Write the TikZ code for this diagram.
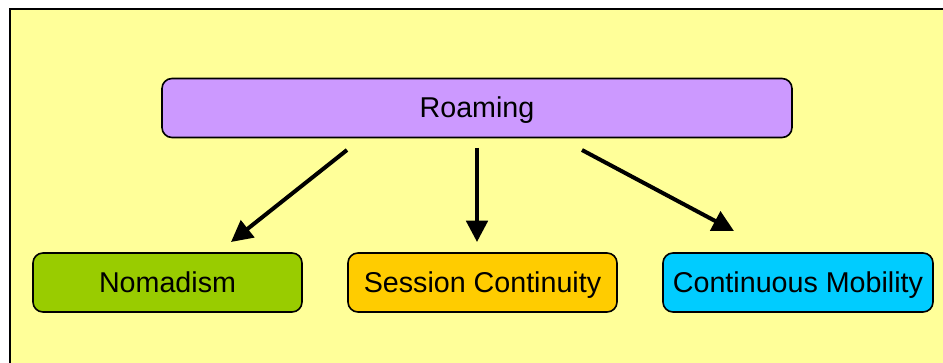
\documentclass[tikz,border=0pt]{standalone}
\usepackage{fontspec}
\setmainfont{Liberation Sans}
\usetikzlibrary{arrows.meta}
\definecolor{bgyellow}{HTML}{FFFF99}
\definecolor{roamc}{HTML}{CC99FF}
\definecolor{nomc}{HTML}{99CC00}
\definecolor{sessc}{HTML}{FFCC00}
\definecolor{contc}{HTML}{00CCFF}
\tikzset{
  box/.style={draw=black, line width=1.2pt, rounded corners=7.5pt, font=\fontsize{21.5}{25}\selectfont, text=black, inner sep=0pt, text height=15pt, text depth=0pt},
  conn/.style={line width=3pt, -{Triangle[length=16pt,width=16pt]}},
}
\begin{document}
\begin{tikzpicture}[x=0.75pt,y=-0.75pt]
\clip (0,0) rectangle (943,363);
\fill[white] (0,0) rectangle (943,363);
\draw[fill=bgyellow, line width=1.5pt] (10,9) rectangle (980,400);
\node[box, fill=roamc, minimum width=630*0.75pt, minimum height=59*0.75pt] (roam) at (477,108) {Roaming};
\node[box, fill=nomc, minimum width=269*0.75pt, minimum height=59*0.75pt] (nom) at (167.5,282.5) {Nomadism};
\node[box, fill=sessc, minimum width=269*0.75pt, minimum height=59*0.75pt] (sess) at (482.5,282.5) {Session Continuity};
\node[box, fill=contc, minimum width=270*0.75pt, minimum height=59*0.75pt] (cont) at (798,282.5) {Continuous Mobility};
\coordinate (s1) at (347,150);
\coordinate (e1) at (231,242);
\coordinate (s2) at (477,148);
\coordinate (e2) at (477,242);
\coordinate (s3) at (582,150);
\coordinate (e3) at (734,231);
\draw[conn] (s1) -- (e1);
\draw[conn] (s2) -- (e2);
\draw[conn] (s3) -- (e3);
\end{tikzpicture}
\end{document}
